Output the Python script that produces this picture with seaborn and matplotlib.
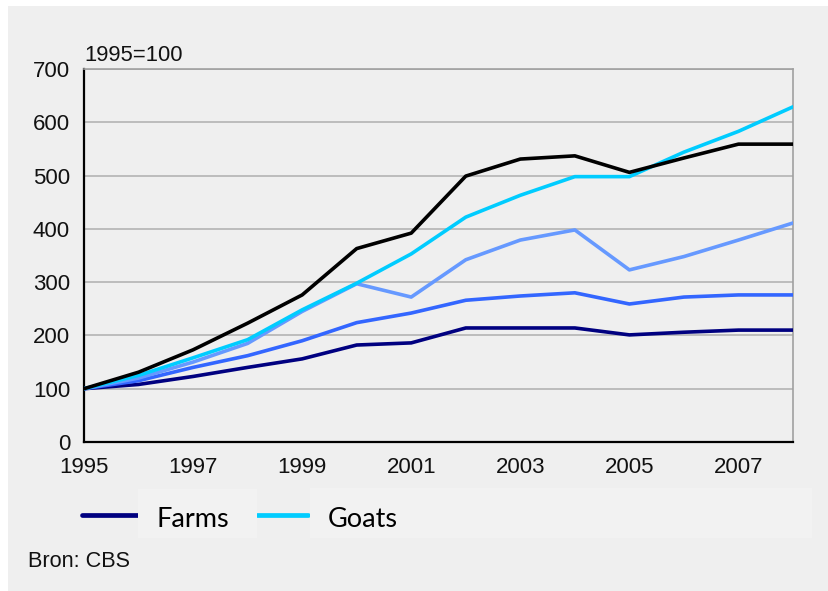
import matplotlib
matplotlib.use("Agg")
import matplotlib.pyplot as plt
from matplotlib.patches import Rectangle
from matplotlib.lines import Line2D
import seaborn as sns
import pandas as pd

years = list(range(1995, 2009))
farms = [100, 108, 123, 140, 156, 182, 186, 214, 214, 214, 201, 206, 210, 210]
blue = [100, 115, 140, 162, 190, 224, 242, 266, 274, 280, 259, 272, 276, 276]
lightblue = [100, 120, 150, 185, 245, 297, 272, 342, 379, 398, 323, 348, 379, 411]
goats = [100, 125, 158, 192, 248, 298, 353, 422, 463, 498, 498, 544, 583, 629]
black = [100, 131, 173, 223, 276, 363, 392, 499, 531, 537, 506, 533, 559, 559]

series_names = ["Farms", "S2", "S3", "Goats", "S5"]
series_values = [farms, blue, lightblue, goats, black]
legend_labels = ["Farms", "Goats"]
colors = {"Farms": "#000080", "S2": "#3366ff", "S3": "#6699ff",
          "Goats": "#00ccff", "S5": "#000000"}

rows = []
for name, vals in zip(series_names, series_values):
    for y, v in zip(years, vals):
        rows.append({"year": y, "value": v, "series": name})
df = pd.DataFrame(rows)

sns.set_theme(style="white")
plt.rcParams["font.family"] = ["Liberation Sans", "DejaVu Sans"]

W, H = 829, 591
fig = plt.figure(figsize=(W / 100, H / 100), dpi=100)
fig.patch.set_facecolor("white")
bg = "#efefef"
fig.patches.append(Rectangle((8 / W, 0), 1 - 8 / W, 1 - 6 / H,
                             transform=fig.transFigure, facecolor=bg,
                             edgecolor="none", zorder=-10))

ax = fig.add_axes([84 / W, 1 - 442 / H, (793 - 84) / W, (442 - 69) / H])
ax.set_facecolor(bg)

for name in series_names:
    sub = df[df["series"] == name]
    sns.lineplot(data=sub, x="year", y="value", color=colors[name],
                 linewidth=2.6, ax=ax, legend=False, zorder=3)

ax.set_xlim(1995, 2008)
ax.set_ylim(0, 700)
ax.set_yticks(range(0, 701, 100))
ax.set_xticks(range(1995, 2009))
ax.set_xticklabels([str(y) if (y - 1995) % 2 == 0 else "" for y in years])
ax.grid(axis="y", color="#b4b4b4", linewidth=1.2, zorder=0)
ax.grid(axis="x", visible=False)
ax.set_xlabel("")
ax.set_ylabel("")

for s in ["left", "bottom"]:
    ax.spines[s].set_color("black")
    ax.spines[s].set_linewidth(1.6)
for s in ["right", "top"]:
    ax.spines[s].set_color("#a0a0a0")
    ax.spines[s].set_linewidth(1.2)

ax.tick_params(axis="both", which="both", direction="out", length=7,
               width=1.5, color="black", labelsize=16, labelcolor="#111111")
ax.tick_params(axis="x", pad=4)
ax.tick_params(axis="y", pad=3)

fig.text(84 / W, 1 - 61 / H, "1995=100", fontsize=15.8, color="#111111",
         ha="left", va="baseline")
fig.text(28 / W, 1 - 567 / H, "Bron: CBS", fontsize=15.6, color="#111111",
         ha="left", va="baseline")

# legend (only Farms and Goats), drawn as pasted boxes like the reference
box_col = "#f2f2f2"
fig.patches.append(Rectangle((138 / W, 1 - 538 / H), (257 - 138) / W, 49 / H,
                             transform=fig.transFigure, facecolor=box_col,
                             edgecolor="none", zorder=-5))
fig.patches.append(Rectangle((310 / W, 1 - 538 / H), (812 - 310) / W, 50 / H,
                             transform=fig.transFigure, facecolor=box_col,
                             edgecolor="none", zorder=-5))
ly = 1 - 515 / H
fig.add_artist(Line2D([82 / W, 138 / W], [ly, ly], transform=fig.transFigure,
                      color=colors["Farms"], linewidth=3.4, zorder=-6))
fig.add_artist(Line2D([257 / W, 308 / W], [ly, ly], transform=fig.transFigure,
                      color=colors["Goats"], linewidth=3.4, zorder=-6))
fig.text(157 / W, 1 - 527 / H, legend_labels[0], family="Lato", fontsize=19.5,
         color="black", ha="left", va="baseline")
fig.text(328 / W, 1 - 527 / H, legend_labels[1], family="Lato", fontsize=19.5,
         color="black", ha="left", va="baseline")

fig.savefig("out.png", dpi=100, facecolor="white")
